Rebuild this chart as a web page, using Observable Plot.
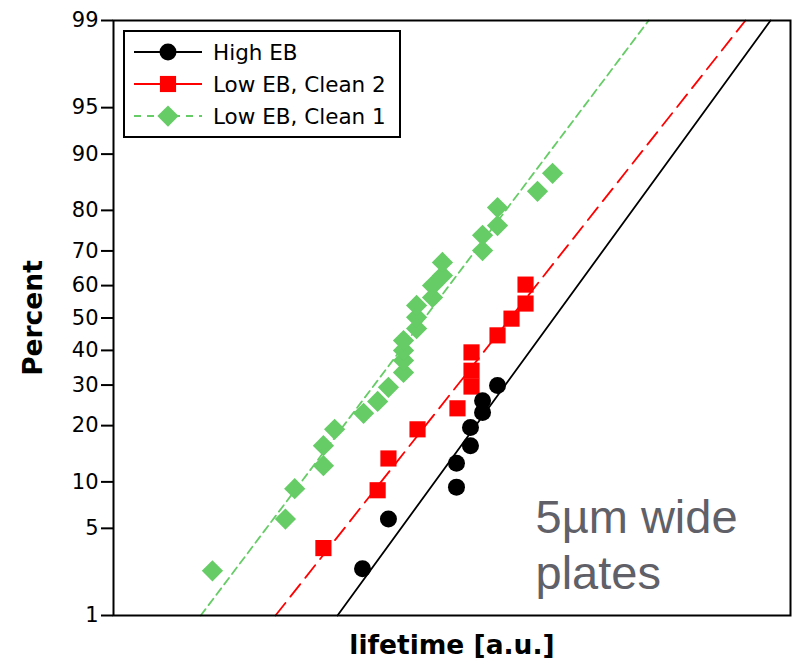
<!DOCTYPE html>
<html><head><meta charset="utf-8">
<script src="https://cdn.jsdelivr.net/npm/d3@7"></script>
<script src="https://cdn.jsdelivr.net/npm/@observablehq/plot@0.6"></script>
<style>
body{margin:0;background:#fff;}
#wrap{position:relative;width:792px;height:663px;}
#legend{position:absolute;left:0;top:0;}
</style></head><body><div id="wrap"></div>
<script>
// ---- data ----
const seriesNames = ["High EB", "Low EB, Clean 2", "Low EB, Clean 1"];
const seriesColors = ["#000000", "#ff0000", "#66cc66"];
const highEB_lifetime = [5.44, 6.49, 10.31, 10.31, 11.34, 11.34, 12.31, 12.31, 13.63];
const highEB_percent  = [2.5, 5.8, 9.3, 12.8, 15.9, 19.6, 23.0, 25.9, 29.9];
const clean2_lifetime = [4.17, 6.03, 6.49, 7.91, 10.38, 11.42, 11.42, 11.42, 13.63, 14.99, 16.49, 16.49];
const clean2_percent  = [3.6, 8.9, 13.6, 19.2, 24.0, 29.6, 34.0, 39.4, 44.6, 49.8, 54.5, 60.3];
const clean1_lifetime = [1.96, 3.22, 3.43, 4.17, 4.17, 4.50, 5.48, 6.03, 6.49, 7.19, 7.19, 7.19, 7.19, 7.86, 7.86, 7.86, 8.76, 8.76, 9.37, 9.37, 12.31, 12.31, 13.63, 13.63, 17.89, 19.82];
const clean1_percent  = [2.4, 5.8, 9.1, 12.4, 15.9, 19.2, 22.8, 25.7, 29.4, 33.5, 37.0, 40.0, 43.0, 46.7, 50.2, 53.9, 56.4, 60.0, 63.0, 66.8, 70.1, 74.1, 76.5, 80.6, 83.9, 87.1];
// fitted lognormal lines: lifetime at the 1% and 99% ends
const fitPercent = [1, 99];
const highEB_fit = [4.59, 87.3];
const clean2_fit = [3.01, 73.6];
const clean1_fit = [1.81, 38.1];
const percentTicks = [1, 5, 10, 20, 30, 40, 50, 60, 70, 80, 90, 95, 99];
const annotation = "5µm wide\nplates";

// ---- inverse normal CDF (probability-scale helper) ----
function probit(p){
  const a=[-3.969683028665376e+01,2.209460984245205e+02,-2.759285104469687e+02,1.383577518672690e+02,-3.066479806614716e+01,2.506628277459239e+00];
  const b=[-5.447609879822406e+01,1.615858368580409e+02,-1.556989798598866e+02,6.680131188771972e+01,-1.328068155288572e+01];
  const c=[-7.784894002430293e-03,-3.223964580411365e-01,-2.400758277161838e+00,-2.549732539343734e+00,4.374664141464968e+00,2.938163982698783e+00];
  const d=[7.784695709041462e-03,3.224671290700398e-01,2.445134137142996e+00,3.754408661907416e+00];
  const pl=0.02425, ph=1-pl; let q,r;
  if(p<pl){q=Math.sqrt(-2*Math.log(p));return (((((c[0]*q+c[1])*q+c[2])*q+c[3])*q+c[4])*q+c[5])/((((d[0]*q+d[1])*q+d[2])*q+d[3])*q+1);}
  if(p<=ph){q=p-0.5;r=q*q;return (((((a[0]*r+a[1])*r+a[2])*r+a[3])*r+a[4])*r+a[5])*q/(((((b[0]*r+b[1])*r+b[2])*r+b[3])*r+b[4])*r+1);}
  q=Math.sqrt(-2*Math.log(1-p));return -(((((c[0]*q+c[1])*q+c[2])*q+c[3])*q+c[4])*q+c[5])/((((d[0]*q+d[1])*q+d[2])*q+d[3])*q+1);
}

// custom symbols
const circleSym = {draw(ctx, size){const r=Math.sqrt(size/Math.PI); ctx.moveTo(r,0); ctx.arc(0,0,r,0,2*Math.PI);}};
const squareSym = {draw(ctx, size){const r=Math.sqrt(size/Math.PI); const h=r*0.95; ctx.rect(-h,-h,2*h,2*h);}};
const diamondSym = {draw(ctx, size){const r=Math.sqrt(size/Math.PI); const h=r*1.25; ctx.moveTo(0,-h); ctx.lineTo(h,0); ctx.lineTo(0,h); ctx.lineTo(-h,0); ctx.closePath();}};

const groups = [
  {name: seriesNames[0], color: seriesColors[0], lt: highEB_lifetime, pc: highEB_percent, fit: highEB_fit, symbol: circleSym, dash: null, legendDash: null},
  {name: seriesNames[1], color: seriesColors[1], lt: clean2_lifetime, pc: clean2_percent, fit: clean2_fit, symbol: squareSym, dash: "16,8", legendDash: null},
  {name: seriesNames[2], color: seriesColors[2], lt: clean1_lifetime, pc: clean1_percent, fit: clean1_fit, symbol: diamondSym, dash: "8,5", legendDash: "7,6"}
];
groups.forEach(g => {
  g.points = g.lt.map((v, i) => ({series: g.name, lifetime: v, z: probit(g.pc[i] / 100)}));
  g.fitLine = fitPercent.map((p, i) => ({series: g.name, lifetime: g.fit[i], z: probit(p / 100)}));
});
const tickZ = percentTicks.map(p => probit(p / 100));
const tickLabel = new Map(tickZ.map((z, i) => [z, String(percentTicks[i])]));

const chart = Plot.plot({
  width: 792, height: 663,
  marginLeft: 113, marginRight: 2, marginTop: 20, marginBottom: 48,
  style: {fontFamily: "DejaVu Sans", fontSize: "21px", color: "#000", background: "#fff", overflow: "visible"},
  x: {type: "log", domain: [1, 100], axis: null},
  y: {domain: [probit(0.01), probit(0.99)], axis: null},
  marks: [
    ...groups.map(g => Plot.line(g.fitLine, {x: "lifetime", y: "z", stroke: g.color, strokeWidth: 1.8, strokeDasharray: g.dash})),
    ...groups.slice().reverse().map(g => Plot.dot(g.points, {x: "lifetime", y: "z", symbol: g.symbol, r: 8.5, fill: g.color, stroke: "none"})),
    Plot.frame({stroke: "#000", strokeWidth: 2}),
    Plot.axisY(tickZ, {tickSize: 12, tickPadding: 3, tickFormat: d => tickLabel.get(d), label: null, stroke: "#000", strokeWidth: 2, fontSize: 21, fill: "#000"}),
    Plot.text(["Percent"], {frameAnchor: "left", dx: -80, rotate: -90, textAnchor: "middle", lineAnchor: "middle", fontWeight: "bold", fontSize: 26.5, fill: "#000"}),
    Plot.text(["lifetime [a.u.]"], {frameAnchor: "bottom", dy: 38, textAnchor: "middle", lineAnchor: "bottom", fontWeight: "bold", fontSize: 26.5, fill: "#000"}),
    Plot.text([annotation], {frameAnchor: "bottom-right", dx: -255, dy: -27, textAnchor: "start", lineAnchor: "bottom", lineHeight: 1.19, fontSize: 47, fill: "#5f6068", fontFamily: "Liberation Sans"})
  ]
});
const wrap = document.getElementById("wrap");
wrap.appendChild(chart);

// legend overlay inside the plot frame
const lg = d3.select(wrap).append("svg").attr("id", "legend").attr("width", 792).attr("height", 663)
  .style("font-family", "DejaVu Sans").style("font-size", "21.5px");
lg.append("rect").attr("x", 124).attr("y", 31).attr("width", 276).attr("height", 106)
  .attr("fill", "#fff").attr("stroke", "#000").attr("stroke-width", 2);
groups.forEach((g, i) => {
  const cy = 52 + i * 32;
  lg.append("line").attr("x1", 134).attr("x2", 202).attr("y1", cy).attr("y2", cy)
    .attr("stroke", g.color).attr("stroke-width", 1.8).attr("stroke-dasharray", g.legendDash);
  lg.append("path").attr("transform", `translate(168,${cy})`)
    .attr("d", d3.symbol(g.symbol, Math.PI * 8.5 * 8.5)()).attr("fill", g.color);
  lg.append("text").attr("x", 213).attr("y", cy).attr("dy", "0.35em").attr("fill", "#000").text(g.name);
});
</script></body></html>
